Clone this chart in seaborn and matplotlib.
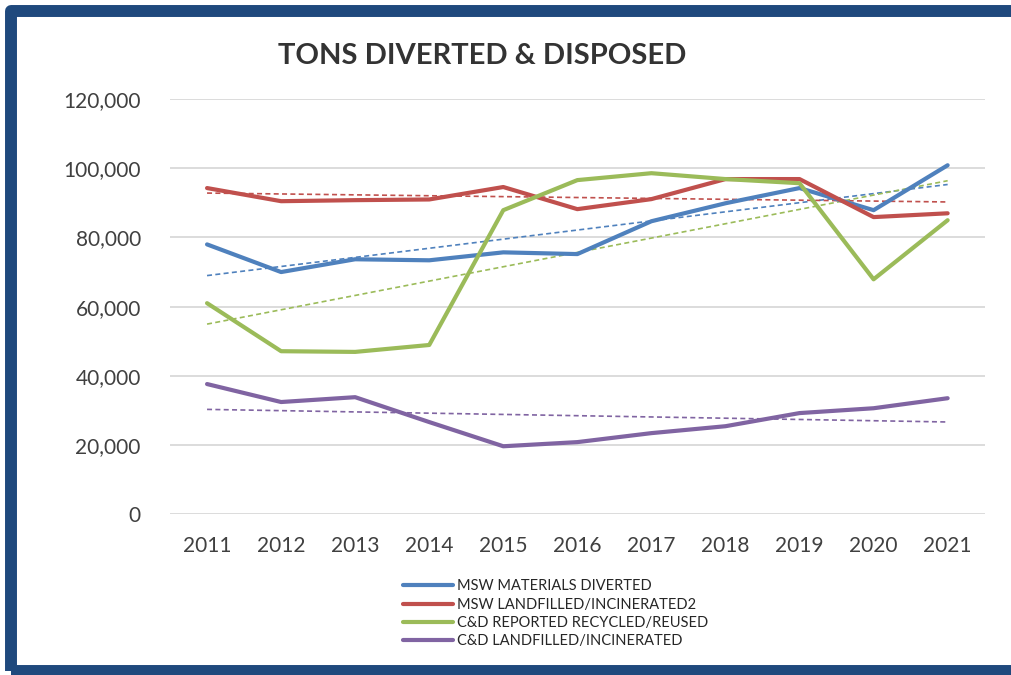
"""Tons diverted and disposed, 2011-2021, with linear trend lines."""

import numpy as np
import pandas as pd
import seaborn as sns
import matplotlib.pyplot as plt
from matplotlib.patches import Rectangle
from matplotlib.ticker import FuncFormatter


YEARS = [2011, 2012, 2013, 2014, 2015, 2016, 2017, 2018, 2019, 2020, 2021]
MSW_DIVERTED = [78000, 70000, 73700, 73400, 75700, 75200, 84700, 89900, 94300, 87900, 100900]
MSW_LANDFILLED = [94300, 90500, 90800, 91000, 94600, 88200, 91100, 96900, 96900, 85900, 87000]
CD_RECYCLED = [61000, 47100, 46900, 48900, 87900, 96600, 98600, 96900, 95700, 67900, 85000]
CD_LANDFILLED = [37600, 32400, 33800, 26600, 19600, 20800, 23400, 25400, 29200, 30600, 33500]

SERIES_NAMES = [
    'MSW MATERIALS DIVERTED',
    'MSW LANDFILLED/INCINERATED2',
    'C&D REPORTED RECYCLED/REUSED',
    'C&D LANDFILLED/INCINERATED',
]
COLORS = ['#4F81BD', '#C0504D', '#9BBB59', '#8064A2']
TITLE = 'TONS DIVERTED & DISPOSED'
Y_TICKS = [0, 20000, 40000, 60000, 80000, 100000, 120000]


def main():
    sns.set_theme(style='white')
    plt.rcParams['font.family'] = ['Lato', 'DejaVu Sans']

    values = [MSW_DIVERTED, MSW_LANDFILLED, CD_RECYCLED, CD_LANDFILLED]
    df = pd.concat(
        [pd.DataFrame({'year': YEARS, 'tons': v, 'series': name})
         for name, v in zip(SERIES_NAMES, values)],
        ignore_index=True,
    )
    palette = dict(zip(SERIES_NAMES, COLORS))

    fig = plt.figure(figsize=(10.12, 6.75), dpi=100)
    ax = fig.add_axes([0.168, 0.2385, 0.805, 0.6145])

    # dashed linear trend lines underneath the data lines
    for name in SERIES_NAMES:
        sns.regplot(
            data=df[df['series'] == name], x='year', y='tons', ax=ax,
            scatter=False, ci=None, truncate=True,
            line_kws={'color': palette[name], 'lw': 1.2, 'ls': (0, (3, 2))},
        )

    sns.lineplot(
        data=df, x='year', y='tons', hue='series', palette=palette,
        hue_order=SERIES_NAMES, lw=3, ax=ax, legend=True,
    )

    ax.set_xlim(2010.5, 2021.5)
    ax.set_ylim(0, 120000)
    ax.set_xticks(YEARS)
    ax.set_yticks(Y_TICKS)
    ax.yaxis.set_major_formatter(FuncFormatter(lambda v, _: f'{v:,.0f}'))
    ax.set_xlabel('')
    ax.set_ylabel('')
    ax.grid(axis='y', color='#D9D9D9', lw=1.3)
    ax.set_axisbelow(True)
    for side in ['top', 'right', 'left', 'bottom']:
        ax.spines[side].set_visible(False)
    ax.tick_params(axis='x', length=0, pad=16, labelsize=15, labelcolor='#404040')
    ax.tick_params(axis='y', length=0, pad=21, labelsize=15, labelcolor='#404040')

    handles, labels = ax.get_legend_handles_labels()
    ax.get_legend().remove()
    fig.legend(
        handles, labels, loc='upper left', bbox_to_anchor=(396 / 1012, 1 - 572 / 675),
        frameon=False, fontsize=10.5, handlelength=3.4, handletextpad=0.3,
        labelspacing=0.3, borderpad=0,
    )

    fig.text(482 / 1012, 1 - 56 / 675, TITLE, ha='center', va='center',
             fontsize=21, fontweight='bold', color='#333333')

    # dark blue frame, cut off by the right and bottom edges of the image
    frame = Rectangle(
        (11 / 1012, 4 / 675), 1002 / 1012, 660 / 675,
        transform=fig.transFigure, fill=False, ec='#1F497D', lw=8.6,
        joinstyle='round',
    )
    fig.patches.append(frame)

    fig.savefig('out.png', dpi=100)
    plt.close(fig)


if __name__ == '__main__':
    main()
